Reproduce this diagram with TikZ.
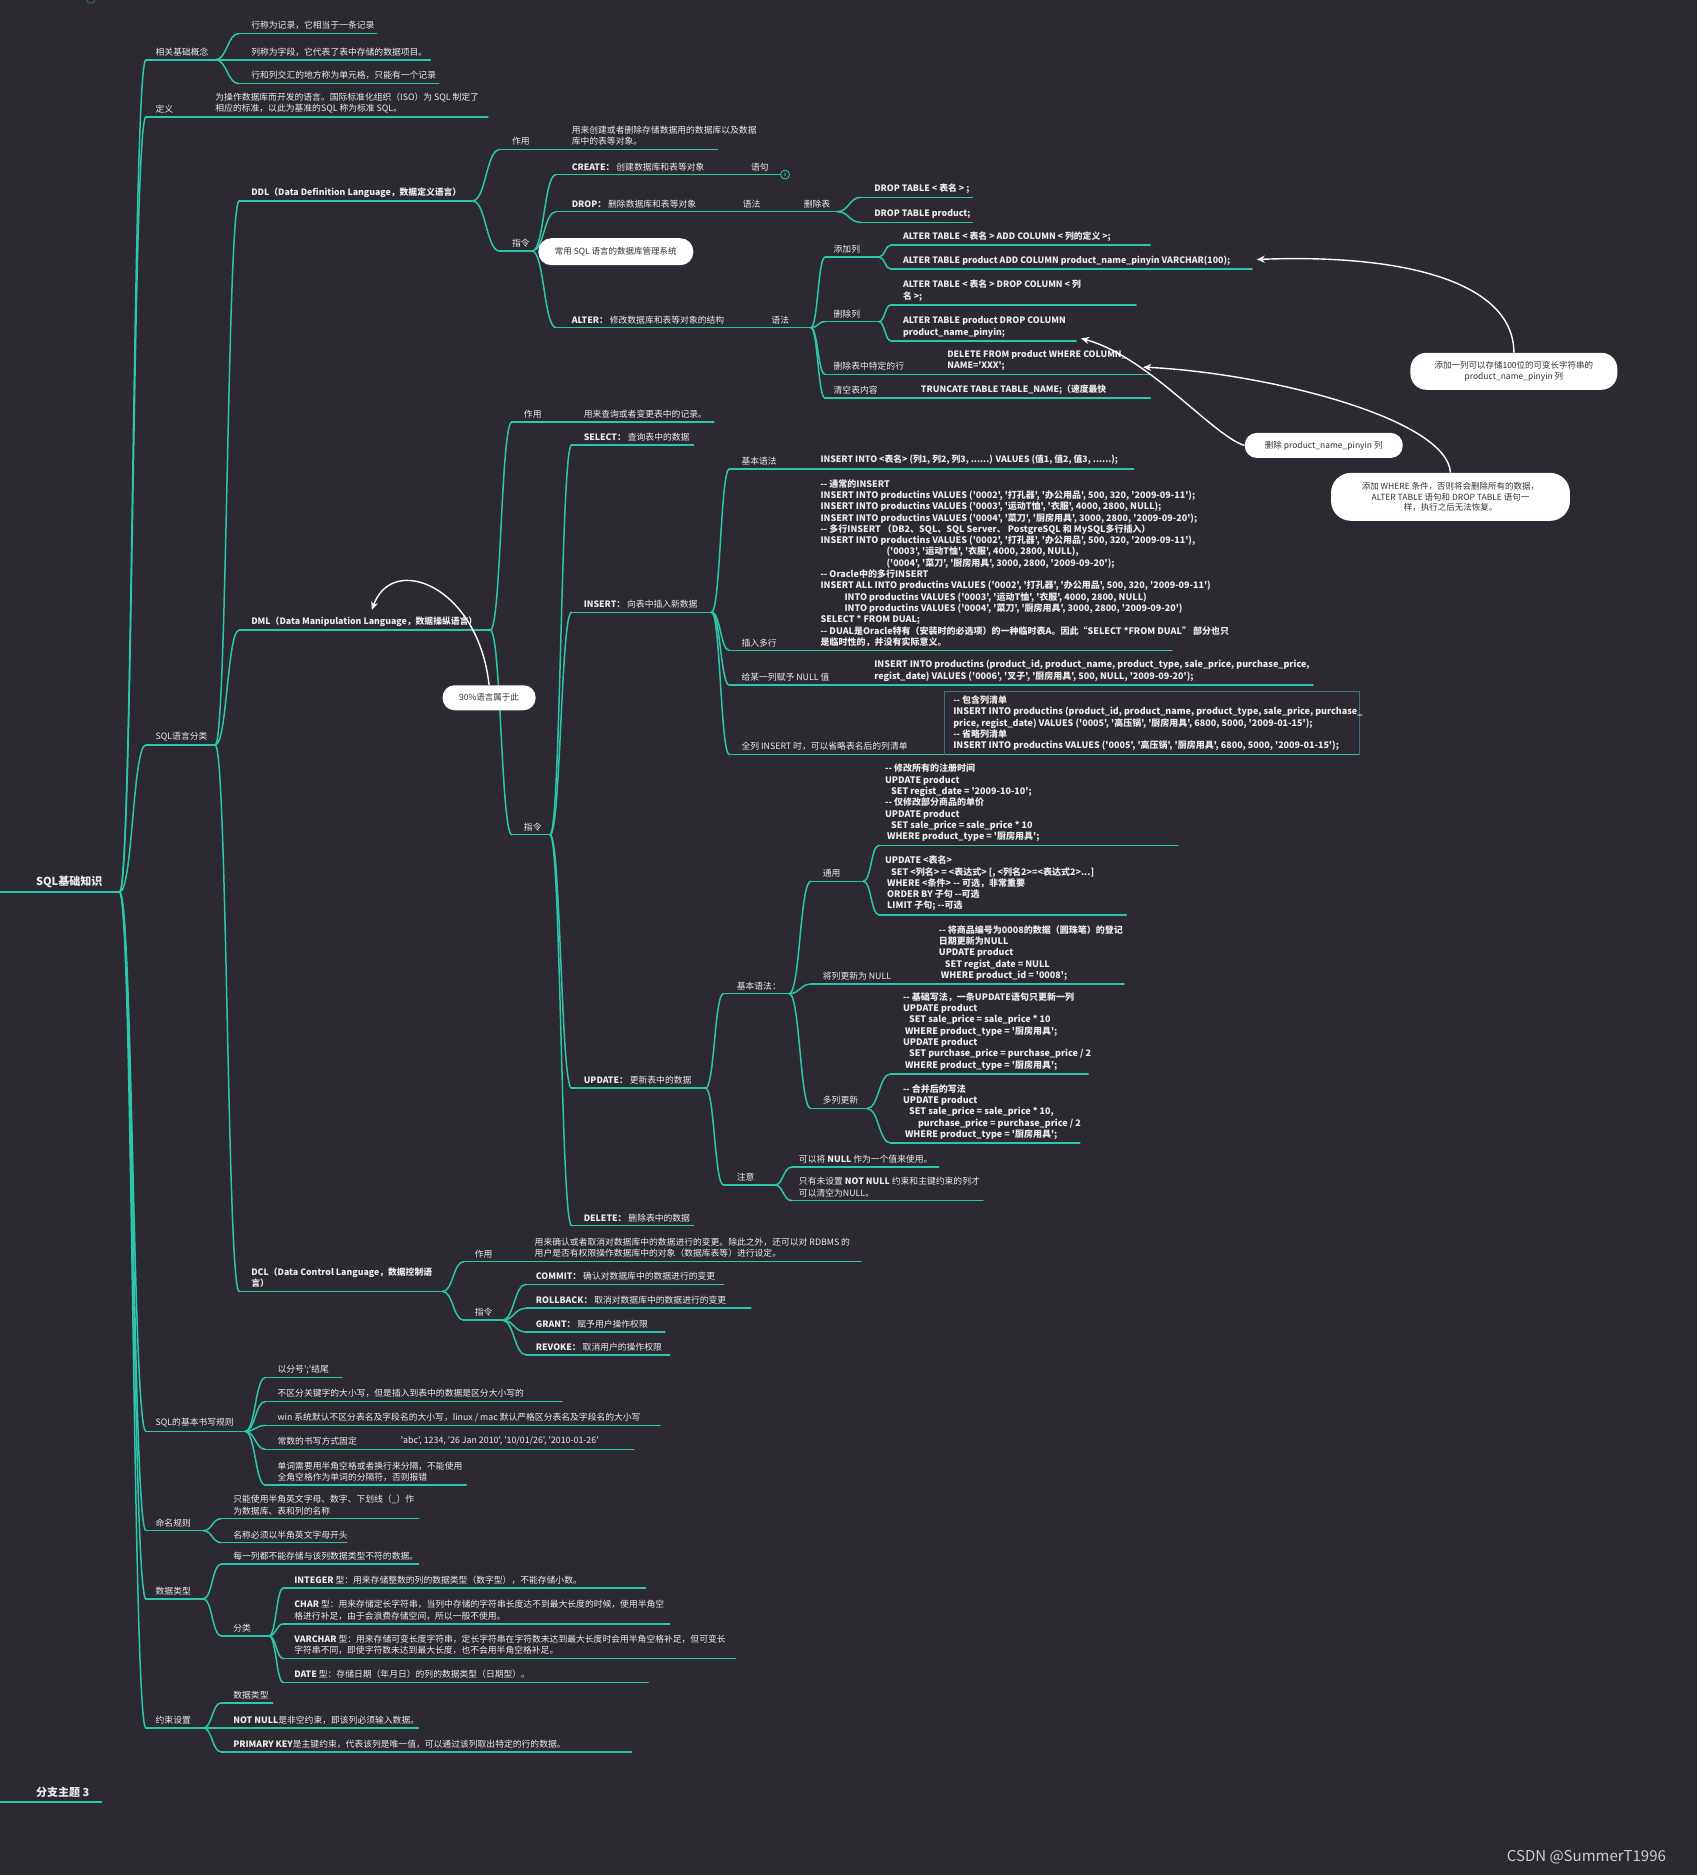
\documentclass[tikz,border=0pt]{standalone}
\usepackage{fontspec}
\newfontfamily\cjk{Noto Sans CJK SC}
\usetikzlibrary{arrows.meta,calc}
\definecolor{bg}{RGB}{45,41,49}
\definecolor{tl}{RGB}{44,199,170}
\definecolor{tx}{RGB}{236,236,236}
\definecolor{bx}{RGB}{60,112,128}
\definecolor{dk}{RGB}{50,50,50}
\definecolor{wm}{RGB}{205,205,205}
\newcommand\dd{-\kern0pt-}
\tikzset{
  ln/.style={draw=tl, line width=1.5pt, line cap=round},
  lbl/.style={anchor=south west, inner sep=0pt, text=tx, align=left, font=\cjk\fontsize{8.8}{11.2}\selectfont},
  bl/.style={lbl, font=\cjk\bfseries\fontsize{8.8}{11.2}\selectfont},
  code/.style={lbl, font=\cjk\bfseries\fontsize{9}{11.3}\selectfont},
  pill/.style={fill=white, text=dk, align=center, inner sep=0pt, font=\cjk\fontsize{8.5}{10.6}\selectfont},
  arr/.style={draw=white, line width=1.4pt, -{Stealth[length=8pt,width=7pt]}},
}
\newcommand\tp[7][9]{%
  \coordinate (#2-s) at (#3,#5);
  \coordinate (#2-e) at (#4,#5);
  \draw[ln] (#2-s) -- (#2-e);
  \node[#6] (#2) at ({#3+#1},{#5-3}) {#7};}
\newcommand\lk[2]{\draw[ln] let \p1=(#1-e),\p2=(#2-s) in (\p1) .. controls ({(\x1+\x2)/2},\y1) and ({(\x1+\x2)/2},\y2) .. (\p2);}
\begin{document}
\begin{tikzpicture}[x=1.196pt,y=-1.196pt]
\useasboundingbox (0,0) rectangle (1419,1568);
\fill[bg] (0,0) rectangle (1419,1568);
\node[circle, draw=tl!50!bg, line width=0.8pt, minimum size=9pt, inner sep=0pt] (topc) at (76,-1) {};

% root
\coordinate (root-s) at (0,746);
\coordinate (root-e) at (100,746);
\draw[ln] (root-s) -- (root-e);
\node[lbl, font=\cjk\bfseries\fontsize{11}{13}\selectfont] (root) at (30,743) {SQL基础知识};

% level 1
\tp[8]{c1}{122}{180}{50}{lbl}{相关基础概念}
\tp[10]{c1a}{200}{315}{28}{lbl}{行称为记录，它相当于一条记录}
\tp[10]{c1b}{200}{360}{50}{lbl}{列称为字段，它代表了表中存储的数据项目。}
\tp[10]{c1c}{200}{367}{70}{lbl}{行和列交汇的地方称为单元格，只能有一个记录}
\lk{c1}{c1a}\lk{c1}{c1b}\lk{c1}{c1c}

\tp[8]{c2}{122}{408}{98}{lbl}{定义}
\node[lbl] (c2-c) at (180,95) {为操作数据库而开发的语言。国际标准化组织（ISO）为 SQL 制定了\\相应的标准，以此为基准的SQL 称为标准 SQL。};

\tp[8]{c3}{122}{180}{623}{lbl}{SQL语言分类}
\tp[8]{c4}{122}{205}{1197}{lbl}{SQL的基本书写规则}
\tp[8]{c5}{122}{170}{1280}{lbl}{命名规则}
\tp[8]{c6}{122}{170}{1337}{lbl}{数据类型}
\tp[8]{c7}{122}{170}{1445}{lbl}{约束设置}
\lk{root}{c1}\lk{root}{c2}\lk{root}{c3}\lk{root}{c4}\lk{root}{c5}\lk{root}{c6}\lk{root}{c7}

% DDL
\tp[10]{ddl}{200}{395}{168}{bl}{DDL（Data Definition Language，数据定义语言）}
\tp[10]{ddlzy}{418}{600}{125}{lbl}{作用}
\node[lbl] (ddlzy-c) at (478,122) {用来创建或者删除存储数据用的数据库以及数据\\库中的表等对象。};
\tp[10]{ddlzl}{418}{445}{210}{lbl}{指令}
\lk{ddl}{ddlzy}\lk{ddl}{ddlzl}
\tp[13]{create}{465}{652}{146}{lbl}{\textbf{CREATE：} 创建数据库和表等对象}
\node[lbl] (create-y) at (628,143) {语句};
\node[circle, draw=tl, line width=0.8pt, inner sep=0pt, minimum size=9pt, text=tl, font=\cjk\fontsize{5}{5}\selectfont] (create-m) at (656.5,146) {8};
\tp[13]{drop}{465}{700}{177}{lbl}{\textbf{DROP：} 删除数据库和表等对象}
\node[lbl] (drop-y) at (621,174) {语法};
\node[lbl] (drop-t) at (672,174) {删除表};
\tp[11]{drop1}{720}{813}{165}{bl}{DROP TABLE < 表名 > ;}
\tp[11]{drop2}{720}{813}{186}{bl}{DROP TABLE product;}
\lk{drop}{drop1}\lk{drop}{drop2}
\tp[13]{alter}{465}{678}{274}{lbl}{\textbf{ALTER：} 修改数据库和表等对象的结构}
\node[lbl] (alter-y) at (645,271) {语法};
\lk{ddlzl}{create}\lk{ddlzl}{drop}\lk{ddlzl}{alter}
\tp[7]{addc}{690}{735}{215}{lbl}{添加列}
\tp[10]{addc1}{745}{962}{205}{bl}{ALTER TABLE < 表名 > ADD COLUMN < 列的定义 >;}
\tp[10]{addc2}{745}{1047}{225}{bl}{ALTER TABLE product ADD COLUMN product\_name\_pinyin VARCHAR(100);}
\lk{addc}{addc1}\lk{addc}{addc2}
\tp[7]{delc}{690}{735}{269}{lbl}{删除列}
\tp[10]{delc1}{745}{950}{255}{bl}{ALTER TABLE < 表名 > DROP COLUMN < 列\\名 >;}
\tp[10]{delc2}{745}{900}{285}{bl}{ALTER TABLE product DROP COLUMN\\product\_name\_pinyin;}
\lk{delc}{delc1}\lk{delc}{delc2}
\tp[7]{delr}{690}{962}{313}{lbl}{删除表中特定的行}
\node[bl] (delr-c) at (792,310) {DELETE FROM product WHERE COLUMN\_\\NAME='XXX';};
\tp[7]{trunc}{690}{962}{333}{lbl}{清空表内容}
\node[bl] (trunc-c) at (770,330) {TRUNCATE TABLE TABLE\_NAME;（速度最快};
\lk{alter}{addc}\lk{alter}{delc}\lk{alter}{delr}\lk{alter}{trunc}

% DML
\tp[10]{dml}{200}{410}{527}{bl}{DML（Data Manipulation Language，数据操纵语言）}
\tp[10]{dmlzy}{428}{597}{353}{lbl}{作用}
\node[lbl] (dmlzy-c) at (488,350) {用来查询或者变更表中的记录。};
\tp[10]{dmlzl}{428}{460}{698}{lbl}{指令}
\lk{dml}{dmlzy}\lk{dml}{dmlzl}
\tp[10]{sel}{478}{580}{372}{lbl}{\textbf{SELECT：} 查询表中的数据}
\tp[10]{ins}{478}{595}{512}{lbl}{\textbf{INSERT：} 向表中插入新数据}
\tp[10]{upd}{478}{590}{910}{lbl}{\textbf{UPDATE：} 更新表中的数据}
\tp[10]{del}{478}{580}{1025}{lbl}{\textbf{DELETE：} 删除表中的数据}
\lk{dmlzl}{sel}\lk{dmlzl}{ins}\lk{dmlzl}{upd}\lk{dmlzl}{del}

\tp[10]{ins1}{610}{948}{392}{lbl}{基本语法}
\node[bl] (ins1-c) at (686,389) {INSERT INTO <表名> (列1, 列2, 列3, ......) VALUES (值1, 值2, 值3, ......);};
\tp[10]{ins2}{610}{980}{544}{lbl}{插入多行}
\node[code] (ins2-c) at (686,541) {\dd{} 通常的INSERT\\
INSERT INTO productins VALUES ('0002', '打孔器', '办公用品', 500, 320, '2009-09-11');\\
INSERT INTO productins VALUES ('0003', '运动T恤', '衣服', 4000, 2800, NULL);\\
INSERT INTO productins VALUES ('0004', '菜刀', '厨房用具', 3000, 2800, '2009-09-20');\\
\dd{} 多行INSERT （DB2、SQL、SQL Server、 PostgreSQL 和 MySQL多行插入）\\
INSERT INTO productins VALUES ('0002', '打孔器', '办公用品', 500, 320, '2009-09-11'),\\
\hspace*{66pt}('0003', '运动T恤', '衣服', 4000, 2800, NULL),\\
\hspace*{66pt}('0004', '菜刀', '厨房用具', 3000, 2800, '2009-09-20');\\
\dd{} Oracle中的多行INSERT\\
INSERT ALL INTO productins VALUES ('0002', '打孔器', '办公用品', 500, 320, '2009-09-11')\\
\hspace*{24pt}INTO productins VALUES ('0003', '运动T恤', '衣服', 4000, 2800, NULL)\\
\hspace*{24pt}INTO productins VALUES ('0004', '菜刀', '厨房用具', 3000, 2800, '2009-09-20')\\
SELECT * FROM DUAL;\\
\dd{} DUAL是Oracle特有（安装时的必选项）的一种临时表A。因此“SELECT *FROM DUAL” 部分也只\\
是临时性的，并没有实际意义。};
\tp[10]{ins3}{610}{1098}{573}{lbl}{给某一列赋予 NULL 值}
\node[code] (ins3-c) at (731,570) {INSERT INTO productins (product\_id, product\_name, product\_type, sale\_price, purchase\_price,\\regist\_date) VALUES ('0006', '叉子', '厨房用具', 500, NULL, '2009-09-20');};
\tp[10]{ins4}{610}{1137}{631}{lbl}{全列 INSERT 时，可以省略表名后的列清单}
\draw[draw=bx, line width=1pt] (790,631) -- (790,578) -- (1137,578) -- (1137,631);
\node[code] (ins4-c) at (797,628) {\dd{} 包含列清单\\
INSERT INTO productins (product\_id, product\_name, product\_type, sale\_price, purchase\_\\
price, regist\_date) VALUES ('0005', '高压锅', '厨房用具', 6800, 5000, '2009-01-15');\\
\dd{} 省略列清单\\
INSERT INTO productins VALUES ('0005', '高压锅', '厨房用具', 6800, 5000, '2009-01-15');};
\lk{ins}{ins1}\lk{ins}{ins2}\lk{ins}{ins3}\lk{ins}{ins4}

\tp[11]{upd1}{605}{660}{831}{lbl}{基本语法：}
\tp[11]{upd2}{605}{648}{991}{lbl}{注意}
\lk{upd}{upd1}\lk{upd}{upd2}
\tp[10]{uty}{678}{722}{737}{lbl}{通用}
\tp[5]{uty1}{735}{985}{707}{code}{\dd{} 修改所有的注册时间\\UPDATE product\\\hspace*{6pt}SET regist\_date = '2009-10-10';\\\dd{} 仅修改部分商品的单价\\UPDATE product\\\hspace*{6pt}SET sale\_price = sale\_price * 10\\\hspace*{2pt}WHERE product\_type = '厨房用具';}
\tp[5]{uty2}{735}{942}{765}{code}{UPDATE <表名>\\\hspace*{6pt}SET <列名> = <表达式> [, <列名2>=<表达式2>...]\\\hspace*{2pt}WHERE <条件>  \dd{} 可选，非常重要\\\hspace*{2pt}ORDER BY 子句  \dd{}可选\\\hspace*{2pt}LIMIT 子句; \dd{}可选}
\lk{uty}{uty1}\lk{uty}{uty2}
\tp[10]{unull}{678}{940}{823}{lbl}{将列更新为 NULL}
\node[code] (unull-c) at (785,820) {\dd{} 将商品编号为0008的数据（圆珠笔）的登记\\日期更新为NULL\\UPDATE product\\\hspace*{6pt}SET regist\_date = NULL\\\hspace*{2pt}WHERE product\_id = '0008';};
\tp[10]{umul}{678}{725}{927}{lbl}{多列更新}
\tp[10]{um1}{745}{910}{898}{code}{\dd{} 基础写法，一条UPDATE语句只更新一列\\UPDATE product\\\hspace*{6pt}SET sale\_price = sale\_price * 10\\\hspace*{2pt}WHERE product\_type = '厨房用具';\\UPDATE product\\\hspace*{6pt}SET purchase\_price = purchase\_price / 2\\\hspace*{2pt}WHERE product\_type = '厨房用具';}
\tp[10]{um2}{745}{903}{956}{code}{\dd{} 合并后的写法\\UPDATE product\\\hspace*{6pt}SET sale\_price = sale\_price * 10,\\\hspace*{15pt}purchase\_price = purchase\_price / 2\\\hspace*{2pt}WHERE product\_type = '厨房用具';}
\lk{umul}{um1}\lk{umul}{um2}
\lk{upd1}{uty}\lk{upd1}{unull}\lk{upd1}{umul}
\tp[6]{n1}{662}{785}{976}{lbl}{可以将 \textbf{NULL} 作为一个值来使用。}
\tp[6]{n2}{662}{822}{1004}{lbl}{只有未设置 \textbf{NOT NULL} 约束和主键约束的列才\\可以清空为NULL。}
\lk{upd2}{n1}\lk{upd2}{n2}

% DCL
\tp[10]{dcl}{200}{370}{1080}{bl}{DCL（Data Control Language，数据控制语\\言）}
\tp[9]{dclzy}{388}{720}{1055}{lbl}{作用}
\node[lbl] (dclzy-c) at (447,1052) {用来确认或者取消对数据库中的数据进行的变更。除此之外，还可以对 RDBMS 的\\用户是否有权限操作数据库中的对象（数据库表等）进行设定。};
\tp[9]{dclzl}{388}{420}{1104}{lbl}{指令}
\lk{dcl}{dclzy}\lk{dcl}{dclzl}
\tp[8]{commit}{440}{605}{1074}{lbl}{\textbf{COMMIT：} 确认对数据库中的数据进行的变更}
\tp[8]{rollback}{440}{628}{1094}{lbl}{\textbf{ROLLBACK：} 取消对数据库中的数据进行的变更}
\tp[8]{grant}{440}{556}{1114}{lbl}{\textbf{GRANT：} 赋予用户操作权限}
\tp[8]{revoke}{440}{560}{1133}{lbl}{\textbf{REVOKE：} 取消用户的操作权限}
\lk{dclzl}{commit}\lk{dclzl}{rollback}\lk{dclzl}{grant}\lk{dclzl}{revoke}
\lk{c3}{ddl}\lk{c3}{dml}\lk{c3}{dcl}

% writing rules
\tp[10]{r1}{222}{286}{1152}{lbl}{以分号';'结尾}
\tp[10]{r2}{222}{470}{1172}{lbl}{不区分关键字的大小写，但是插入到表中的数据是区分大小写的}
\tp[10]{r3}{222}{552}{1192}{lbl}{win 系统默认不区分表名及字段名的大小写，linux / mac 默认严格区分表名及字段名的大小写}
\tp[10]{r4}{222}{530}{1212}{lbl}{常数的书写方式固定}
\node[lbl] (r4-c) at (335,1209) {'abc', 1234, '26 Jan 2010', '10/01/26', '2010-01-26'};
\tp[10]{r5}{222}{390}{1242}{lbl}{单词需要用半角空格或者换行来分隔，不能使用\\全角空格作为单词的分隔符，否则报错}
\lk{c4}{r1}\lk{c4}{r2}\lk{c4}{r3}\lk{c4}{r4}\lk{c4}{r5}

% naming
\tp[10]{nm1}{185}{350}{1270}{lbl}{只能使用半角英文字母、数字、下划线（\_）作\\为数据库、表和列的名称}
\tp[10]{nm2}{185}{290}{1290}{lbl}{名称必须以半角英文字母开头}
\lk{c5}{nm1}\lk{c5}{nm2}

% data types
\tp[10]{t1}{185}{350}{1308}{lbl}{每一列都不能存储与该列数据类型不符的数据。}
\tp[10]{t2}{185}{225}{1368}{lbl}{分类}
\lk{c6}{t1}\lk{c6}{t2}
\tp[9]{ty1}{237}{540}{1328}{lbl}{\textbf{INTEGER} 型：用来存储整数的列的数据类型（数字型），不能存储小数。}
\tp[9]{ty2}{237}{560}{1358}{lbl}{\textbf{CHAR} 型：用来存储定长字符串，当列中存储的字符串长度达不到最大长度的时候，使用半角空\\格进行补足，由于会浪费存储空间，所以一般不使用。}
\tp[9]{ty3}{237}{615}{1387}{lbl}{\textbf{VARCHAR} 型：用来存储可变长度字符串，定长字符串在字符数未达到最大长度时会用半角空格补足，但可变长\\字符串不同，即使字符数未达到最大长度，也不会用半角空格补足。}
\tp[9]{ty4}{237}{542}{1407}{lbl}{\textbf{DATE} 型：存储日期（年月日）的列的数据类型（日期型）。}
\lk{t2}{ty1}\lk{t2}{ty2}\lk{t2}{ty3}\lk{t2}{ty4}

% constraints
\tp[10]{k1}{185}{228}{1424}{lbl}{数据类型}
\tp[10]{k2}{185}{350}{1445}{lbl}{\textbf{NOT NULL}是非空约束，即该列必须输入数据。}
\tp[10]{k3}{185}{528}{1465}{lbl}{\textbf{PRIMARY KEY}是主键约束，代表该列是唯一值，可以通过该列取出特定的行的数据。}
\lk{c7}{k1}\lk{c7}{k2}\lk{c7}{k3}

% floating topic
\coordinate (ft-s) at (0,1507);
\coordinate (ft-e) at (85,1507);
\draw[ln] (ft-s) -- (ft-e);
\node[lbl, font=\cjk\bfseries\fontsize{11}{13}\selectfont] (ft) at (30,1503) {分支主题 3};

% callouts
\node[pill, minimum width=155pt, minimum height=27pt, rounded corners=13pt] (dbms) at (515,210.5) {常用 SQL 语言的数据库管理系统};
\node[pill, minimum width=93pt, minimum height=25pt, rounded corners=12pt] (p90) at (409,583.5) {90\%语言属于此};
\node[pill, minimum width=207pt, minimum height=37pt, rounded corners=16pt] (a1) at (1266,310.5) {添加一列可以存储100位的可变长字符串的\\product\_name\_pinyin 列};
\node[pill, minimum width=158pt, minimum height=25pt, rounded corners=12pt] (a2) at (1107,372.5) {删除 product\_name\_pinyin 列};
\node[pill, minimum width=239pt, minimum height=48pt, rounded corners=20pt] (a3) at (1213,415.5) {添加 WHERE 条件，否则将会删除所有的数据，\\ALTER TABLE 语句和 DROP TABLE 语句一\\样，执行之后无法恢复。};

\coordinate (addc2-t) at (1051,217);
\coordinate (delc2-t) at (904,283);
\coordinate (delr-t) at (956,307);
\coordinate (dml-t) at (311,510);
\draw[arr] (a1.north) .. controls (1266,238) and (1180,212) .. (addc2-t);
\draw[arr] (a2.west) .. controls (1015,365) and (960,298) .. (delc2-t);
\draw[arr] (a3.north) .. controls (1210,350) and (1060,312) .. (delr-t);
\draw[arr] (p90.north) .. controls (400,490) and (328,462) .. (dml-t);

% watermark
\node[anchor=west, inner sep=0pt, text=wm, font=\cjk\fontsize{15}{17}\selectfont] (wmk) at (1260,1553) {CSDN @SummerT1996};
\end{tikzpicture}
\end{document}
